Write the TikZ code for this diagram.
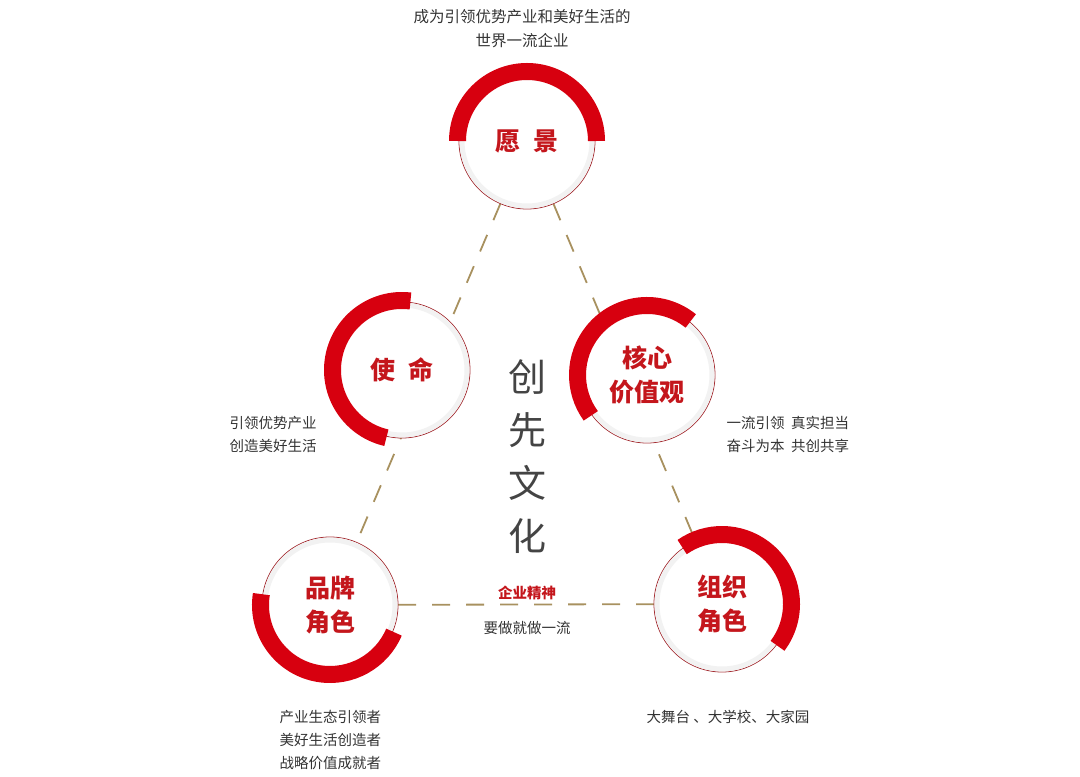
\documentclass[tikz,border=0pt]{standalone}
\usepackage{fontspec}
\setmainfont{Noto Sans CJK SC}
\usetikzlibrary{backgrounds}
\definecolor{ringred}{HTML}{D7000F}
\definecolor{titlered}{HTML}{C4161C}
\definecolor{edgered}{HTML}{A32A2F}
\definecolor{linkgold}{HTML}{A8915F}
\definecolor{textgray}{HTML}{333333}
\definecolor{centergray}{HTML}{444444}

\begin{document}
\begin{tikzpicture}[x=1pt, y=1pt,
    pillar/.style={circle, draw=edgered, line width=0.8pt, fill=white, minimum size=136pt, inner sep=0pt, align=center, text=titlered, font=\fontsize{25}{34}\selectfont\bfseries},
    ring/.style={ringred, line width=17pt},
    glow/.style={black!5, line width=5pt},
    link/.style={linkgold, line width=1.8pt, dash pattern=on 18pt off 16pt},
    note/.style={text=textgray, font=\fontsize{14.5}{23}\selectfont, align=left},
]
    \useasboundingbox (0,0) rectangle (1080,777);

    % Five pillars
    \node[pillar] (vision)  at (527, 636) {愿\enspace 景};
    \node[pillar] (mission) at (402, 407) {使\enspace 命};
    \node[pillar] (values)  at (647, 402) {核心\\价值观};
    \node[pillar] (brand)   at (330, 172) {品牌\\角色};
    \node[pillar] (org)     at (722, 173) {组织\\角色};

    % Soft inner shadow
    \draw[glow] (vision)  circle[radius=65];
    \draw[glow] (mission) circle[radius=65];
    \draw[glow] (values)  circle[radius=65];
    \draw[glow] (brand)   circle[radius=65];
    \draw[glow] (org)     circle[radius=65];

    % Red rings
    \draw[ring] ([shift={(0:69.5)}]vision.center) arc[start angle=0, end angle=180, radius=69.5];
    \draw[ring] ([shift={(83:69.5)}]mission.center) arc[start angle=83, end angle=257, radius=69.5];
    \draw[ring] ([shift={(51:69.5)}]values.center) arc[start angle=51, end angle=216, radius=69.5];
    \draw[ring] ([shift={(171:69.5)}]brand.center) arc[start angle=171, end angle=337, radius=69.5];
    \draw[ring] ([shift={(-37:69.5)}]org.center) arc[start angle=-37, end angle=125, radius=69.5];

    % Dashed triangle behind the pillars
    \begin{scope}[on background layer]
        \draw[link] (vision.center) -- (brand.center);
        \draw[link] (vision.center) -- (org.center);
        \draw[link] (brand.center) -- (org.center);
    \end{scope}

    % Centre title
    \node[text=centergray, font=\fontsize{38}{53}\selectfont, align=center] (culture) at (527, 320) {创\\先\\文\\化};

    % Spirit on the base line
    \node[text=titlered, font=\fontsize{14.5}{18}\selectfont\bfseries] (spirit) at (527, 184) {企业精神};
    \node[note] (spirittext) at (527, 149) {要做就做一流};

    % Descriptions
    \node[note, align=center, font=\fontsize{15.5}{24}\selectfont] (visiontext) at (522, 748) {成为引领优势产业和美好生活的\\世界一流企业};
    \node[note, anchor=west] (missiontext) at (226, 342.5) {引领优势产业\\创造美好生活};
    \node[note, anchor=west] (valuestext) at (723, 342.5) {一流引领\ \ 真实担当\\奋斗为本\ \ 共创共享};
    \node[note, anchor=west] (brandtext) at (276, 37) {产业生态引领者\\美好生活创造者\\战略价值成就者};
    \node[note] (orgtext) at (728, 60) {大舞台\ 、大学校、大家园};
\end{tikzpicture}
\end{document}
